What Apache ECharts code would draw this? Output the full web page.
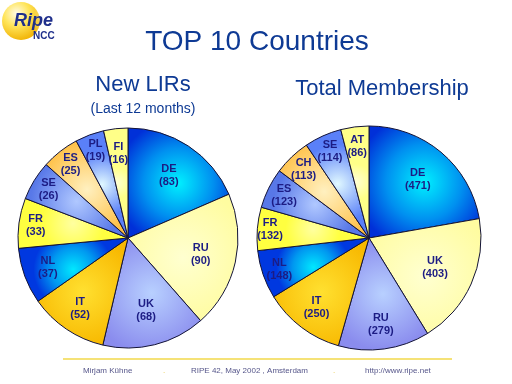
<!DOCTYPE html>
<html>
<head>
<meta charset="utf-8">
<script src="https://cdn.jsdelivr.net/npm/echarts@6/dist/echarts.min.js"></script>
<style>
html,body{margin:0;padding:0;background:#fff;}
#c{width:512px;height:384px;}
</style>
</head>
<body>
<div id="c"></div>
<script>
// ---- data ----
const leftCategories = ['DE', 'RU', 'UK', 'IT', 'NL', 'FR', 'SE', 'ES', 'PL', 'FI'];
const leftValues = [83, 90, 68, 52, 37, 33, 26, 25, 19, 16];
const rightCategories = ['DE', 'UK', 'RU', 'IT', 'NL', 'FR', 'ES', 'CH', 'SE', 'AT'];
const rightValues = [471, 403, 279, 250, 148, 132, 123, 113, 114, 86];

const mainTitle = 'TOP 10 Countries';
const leftTitle = 'New LIRs';
const leftSubtitle = '(Last 12 months)';
const rightTitle = 'Total Membership';
const footerTexts = ['Mirjam Kühne', 'RIPE 42, May 2002 , Amsterdam', 'http://www.ripe.net'];

// ---- styles ----
function rg(inner, outer, mid) {
  const stops = mid
    ? [{offset: 0, color: inner}, {offset: 0.55, color: mid}, {offset: 1, color: outer}]
    : [{offset: 0, color: inner}, {offset: 1, color: outer}];
  return {type: 'radial', x: 0.5, y: 0.5, r: 0.62, colorStops: stops};
}
const palette = [
  rg('#00f0ff', '#0030d8', '#0090f0'),   // blue / cyan
  rg('#ffffd0', '#fffca0'),              // light yellow
  rg('#b8d0ff', '#8a8cee'),              // lavender
  rg('#ffe030', '#f8b800'),              // gold
  rg('#00e8ff', '#0038e0', '#0098f0'),   // blue / cyan 2
  rg('#ffffa0', '#ffff40'),              // yellow
  rg('#b0c8ff', '#5878e8'),              // medium blue
  rg('#fff0c0', '#ffbe40'),              // light orange
  rg('#e0f8ff', '#5a80f8'),              // light blue
  rg('#ffffd8', '#ffff88')               // pale yellow
];
const labelColor = '#1c1c84';
const borderColor = '#141438';
const font = '"Liberation Sans", Arial, sans-serif';

const leftTiers = [0.65, 0.65, 0.65, 0.75, 0.75, 0.82, 0.82, 0.82, 0.82, 0.75];
const rightTiers = [0.65, 0.62, 0.75, 0.75, 0.82, 0.86, 0.82, 0.82, 0.82, 0.8];

function pieSeries(cats, vals, tiers, center, R) {
  const out = [];
  out.push({
    type: 'pie', center: center, radius: [0, R], startAngle: 90, clockwise: true,
    avoidLabelOverlap: false, silent: true, label: {show: false}, labelLine: {show: false},
    itemStyle: {borderColor: borderColor, borderWidth: 1},
    data: cats.map((c, i) => ({name: c, value: vals[i], itemStyle: {color: palette[i]}}))
  });
  const uniq = [...new Set(tiers)];
  uniq.forEach(q => {
    out.push({
      type: 'pie', center: center, radius: [(2 * q - 1) * R, R], startAngle: 90, clockwise: true,
      avoidLabelOverlap: false, silent: true, labelLine: {show: false},
      itemStyle: {color: 'rgba(0,0,0,0)', borderWidth: 0},
      label: {
        position: 'inside', formatter: p => p.name + '\n(' + p.value + ')',
        color: labelColor, fontFamily: font, fontWeight: 'bold', fontSize: 11, lineHeight: 13
      },
      data: cats.map((c, i) => ({name: c, value: vals[i], label: {show: tiers[i] === q}}))
    });
  });
  return out;
}

const chart = echarts.init(document.getElementById('c'), null, {renderer: 'canvas'});

const series = [].concat(
  pieSeries(leftCategories, leftValues, leftTiers, [128, 238], 110),
  pieSeries(rightCategories, rightValues, rightTiers, [369, 238], 112)
);

const titleColor = '#0e3a94';
const graphic = [
  // logo
  {type: 'circle', shape: {cx: 21, cy: 21, r: 19}, style: {
    fill: {type: 'radial', x: 0.38, y: 0.3, r: 0.75, colorStops: [
      {offset: 0, color: '#fffbe8'}, {offset: 0.45, color: '#ffe55a'}, {offset: 1, color: '#f0b000'}]}
  }},
  {type: 'circle', shape: {cx: 34, cy: 21, r: 19}, style: {
    fill: {type: 'linear', x: 0, y: 0, x2: 1, y2: 0, colorStops: [
      {offset: 0, color: 'rgba(255,255,255,0)'}, {offset: 0.5, color: 'rgba(255,255,255,0)'}, {offset: 1, color: 'rgba(255,255,255,0.85)'}]}
  }},
  {type: 'text', x: 14, y: 21, style: {text: 'Ripe', fill: '#1f2f8c', font: 'italic bold 18px ' + font, verticalAlign: 'middle'}},
  {type: 'text', x: 33, y: 36, style: {text: 'NCC', fill: '#1f2f8c', font: 'bold 10px ' + font, verticalAlign: 'middle'}},
  // titles
  {type: 'text', x: 257, y: 42, style: {text: mainTitle, fill: titleColor, font: '28px ' + font, align: 'center', verticalAlign: 'middle'}},
  {type: 'text', x: 143, y: 85, style: {text: leftTitle, fill: titleColor, font: '22px ' + font, align: 'center', verticalAlign: 'middle'}},
  {type: 'text', x: 143, y: 109, style: {text: leftSubtitle, fill: titleColor, font: '14px ' + font, align: 'center', verticalAlign: 'middle'}},
  {type: 'text', x: 382, y: 89, style: {text: rightTitle, fill: titleColor, font: '22px ' + font, align: 'center', verticalAlign: 'middle'}},
  // footer
  {type: 'line', shape: {x1: 63, y1: 359, x2: 452, y2: 359}, style: {stroke: '#f2d84a', lineWidth: 1.5}},
  {type: 'text', x: 83, y: 371, style: {text: footerTexts[0], fill: '#56568a', font: '8px ' + font, verticalAlign: 'middle'}},
  {type: 'text', x: 163, y: 371, style: {text: '.', fill: '#e8c840', font: '8px ' + font, verticalAlign: 'middle'}},
  {type: 'text', x: 191, y: 371, style: {text: footerTexts[1], fill: '#56568a', font: '8px ' + font, verticalAlign: 'middle'}},
  {type: 'text', x: 333, y: 371, style: {text: '.', fill: '#e8c840', font: '8px ' + font, verticalAlign: 'middle'}},
  {type: 'text', x: 365, y: 371, style: {text: footerTexts[2], fill: '#56568a', font: '8px ' + font, verticalAlign: 'middle'}}
];

chart.setOption({
  backgroundColor: '#ffffff',
  animation: false,
  series: series,
  graphic: graphic
});
</script>
</body>
</html>
